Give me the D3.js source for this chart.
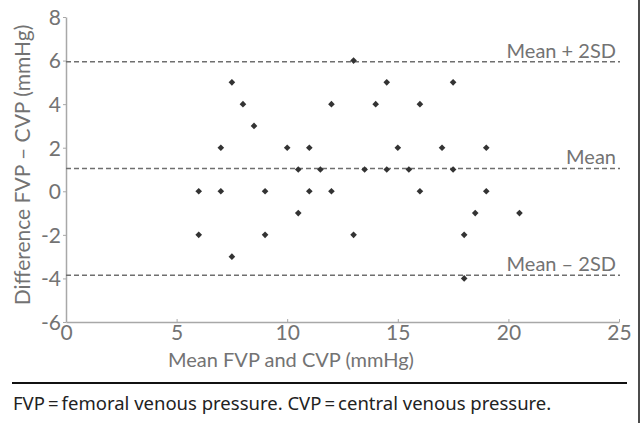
<!DOCTYPE html>
<html>
<head>
<meta charset="utf-8">
<script src="https://cdn.jsdelivr.net/npm/d3@7"></script>
<style>
body { margin:0; background:#fff; }
svg { display:block; font-family:Lato, "Open Sans", sans-serif; }
</style>
</head>
<body>
<svg id="chart"></svg>
<script>
//mean of FVP and CVP for each patient
var meanValues = [6,6,7,7,7.5,7.5,8,8.5,9,9,10,10.5,10.5,11,11,11.5,12,12,13,13,13.5,14,14.5,14.5,15,15.5,16,16,17,17.5,17.5,18,18,18.5,19,19,20.5];
//difference FVP - CVP for each patient
var diffValues = [0,-2,2,0,5,-3,4,3,0,-2,2,1,-1,2,0,1,4,0,6,-2,1,4,5,1,2,1,4,0,2,5,1,-2,-4,-1,2,0,-1];

//reference lines
var refLabels = ["Mean + 2SD","Mean","Mean \u2013 2SD"];
var refValues = [5.95,1.05,-3.85];

var xTicks = [0,5,10,15,20,25];
var yTicks = [-6,-4,-2,0,2,4,6,8];

var screen = {width:640, height:423};
var margins = {top:17, left:66, right:21, bottom:101};
var graph = {
    width:screen.width-margins.left-margins.right,
    height:screen.height-margins.top-margins.bottom
};

var svg = d3.select("#chart")
    .attr("width",screen.width)
    .attr("height",screen.height);

var xScale = d3.scaleLinear().domain([0,25]).range([0,553]);
var yScale = d3.scaleLinear().domain([-6,8]).range([graph.height,0]);

var g = svg.append("g")
    .attr("transform","translate("+margins.left+","+margins.top+")");

var grey = "#737373";

//axes
var xAxis = g.append("g")
    .attr("transform","translate(0,"+graph.height+")")
    .call(d3.axisBottom(xScale).tickValues(xTicks).tickSize(-3).tickPadding(5).tickSizeOuter(0));
var yAxis = g.append("g")
    .call(d3.axisLeft(yScale).tickValues(yTicks).tickSize(3).tickPadding(2).tickSizeOuter(0)
        .tickFormat(function(d){return String(d);}));

[xAxis,yAxis].forEach(function(ax)
{
    ax.select(".domain").attr("stroke","#a8a8a8").attr("stroke-width",1.5);
    ax.selectAll(".tick line").attr("stroke","#a8a8a8");
    ax.selectAll("text").attr("fill",grey).style("font-size","21px")
        .style("font-family","Lato, sans-serif");
});
xAxis.selectAll("text").attr("dy","0.6em");
yAxis.selectAll("text").attr("dy","0.35em");

//reference lines
g.selectAll(".ref")
    .data(refValues)
    .enter()
    .append("line")
    .attr("x1",0)
    .attr("x2",554)
    .attr("y1",function(d){return yScale(d);})
    .attr("y2",function(d){return yScale(d);})
    .attr("stroke","#6f6f6f")
    .attr("stroke-width",1.5)
    .attr("stroke-dasharray","5,3");

g.selectAll(".refLabel")
    .data(refLabels)
    .enter()
    .append("text")
    .attr("x",550)
    .attr("y",function(d,i){return yScale(refValues[i])-4;})
    .attr("text-anchor","end")
    .attr("fill",grey)
    .style("font-size","20px")
    .text(function(d){return d;});

//points
g.selectAll(".pt")
    .data(meanValues)
    .enter()
    .append("path")
    .attr("d",d3.symbol().type(d3.symbolSquare).size(22))
    .attr("transform",function(d,i)
    {
        return "translate("+xScale(d)+","+yScale(diffValues[i])+") rotate(45)";
    })
    .attr("fill","#333");

//axis titles
svg.append("text")
    .attr("x",291)
    .attr("y",367)
    .attr("text-anchor","middle")
    .attr("fill",grey)
    .style("font-size","20px")
    .text("Mean FVP and CVP (mmHg)");

svg.append("text")
    .attr("transform","translate(30,165) rotate(-90)")
    .attr("text-anchor","middle")
    .attr("fill",grey)
    .style("font-size","21px")
    .text("Difference FVP \u2013 CVP (mmHg)");

//rule and footnote
svg.append("line")
    .attr("x1",12).attr("x2",627)
    .attr("y1",383).attr("y2",383)
    .attr("stroke","#111").attr("stroke-width",2);

svg.append("text")
    .attr("x",13)
    .attr("y",410)
    .attr("fill","#222")
    .style("font-size","18.5px")
    .style("font-family","'Noto Sans', sans-serif")
    .text("FVP\u2009=\u2009femoral venous pressure. CVP\u2009=\u2009central venous pressure.");

//right frame edge
svg.append("line")
    .attr("x1",639).attr("x2",639)
    .attr("y1",0).attr("y2",423)
    .attr("stroke","#111").attr("stroke-width",1.5);
</script>
</body>
</html>
